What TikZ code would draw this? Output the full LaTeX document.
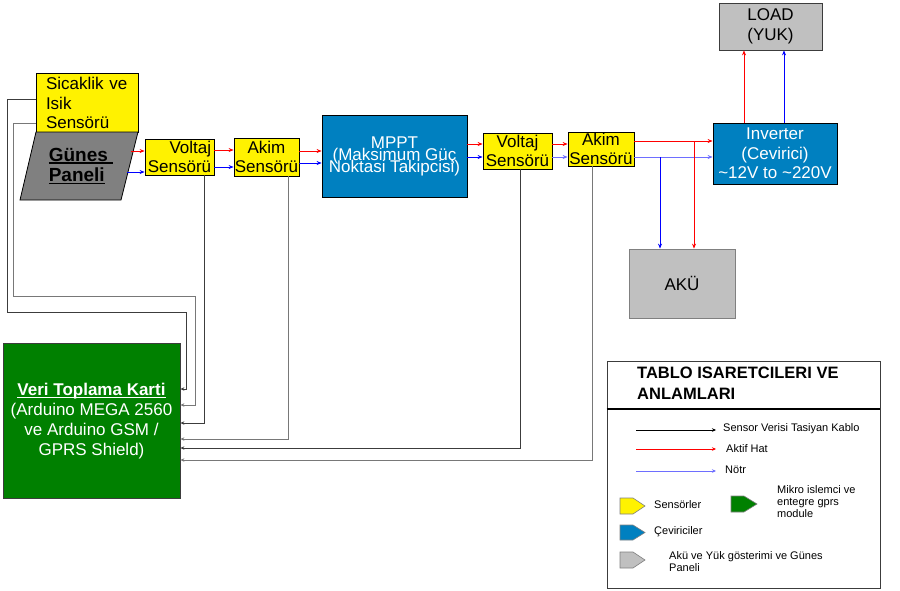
\documentclass[tikz,border=0pt]{standalone}
\usepackage{fontspec}
\setmainfont{Liberation Sans}
\usetikzlibrary{arrows.meta}
\definecolor{mpptblue}{RGB}{0,128,192}
\definecolor{boxgreen}{RGB}{0,128,0}
\definecolor{lgray}{RGB}{192,192,192}
\definecolor{dgray}{RGB}{128,128,128}
\definecolor{wire}{RGB}{60,60,60}
\definecolor{wiretwo}{RGB}{120,120,120}
\definecolor{lblue}{RGB}{110,110,255}
\newcommand\myul[1]{\setbox0\hbox{#1}\rlap{\rule[-2.5pt]{\wd0}{1.3pt}}\box0}
\newcommand\tightlines{\lineskiplimit=-20pt\relax}
\begin{document}
\begin{tikzpicture}[x=1pt,y=-1pt,
  box/.style={draw=black, line width=0.8pt, inner sep=0pt},
  bigfont/.style={font=\fontsize{17}{19.5}\selectfont},
  sensorbox/.style={box, fill=yellow, bigfont, align=center},
  redarrow/.style={draw=red, line width=0.7pt, -{Stealth[length=5pt,width=4pt]}},
  bluearrow/.style={draw=blue, line width=0.7pt, -{Stealth[length=5pt,width=4pt]}},
  wirearrow/.style={draw=wire, line width=0.8pt, -{Stealth[length=4pt,width=3.5pt]}},
  wiregray/.style={wirearrow, draw=wiretwo},
  smalltext/.style={font=\fontsize{11}{12}\selectfont, anchor=west, inner sep=0pt, align=left},
  icon/.style={draw=dgray, line width=0.6pt}
]
\useasboundingbox (0,0) rectangle (900,590);
\fill[white] (0,0) rectangle (900,590);

% ---- boxes ----
\node[box, fill=yellow, minimum width=102, minimum height=59, text width=82pt, align=left,
      font=\fontsize{17}{19.5}\selectfont] (sic) at (87,103) {Sicaklik ve\\Isik\\Sensörü};
\draw[line width=0.8pt, fill=dgray] (36,132) -- (138,132) -- (121,200) -- (20,200) -- cycle;
\node[inner sep=0pt, align=left, font=\fontsize{19}{20.5}\selectfont\bfseries] (gunes) at (81,166)
      {\myul{Günes\ }\\\myul{Paneli}};
\coordinate (gunesR) at (131,151);
\coordinate (gunesB) at (127,172);

\node[sensorbox, minimum width=69, minimum height=36, align=right] (v1) at (179.5,157) {Voltaj\\Sensörü};
\node[sensorbox, minimum width=65, minimum height=38] (a1) at (266.5,157) {Akim\\Sensörü};
\node[box, fill=mpptblue, minimum width=145, minimum height=82, align=center, text=white,
      font={\fontsize{17}{12}\selectfont\tightlines}] (mppt) at (394.5,156)
      {MPPT\\(Maksimum Güç\\Noktasi Takipcisi)};
\node[sensorbox, minimum width=69, minimum height=36] (v2) at (517.5,151) {Voltaj\\Sensörü};
\node[sensorbox, minimum width=66, minimum height=34] (a2) at (601,149) {Akim\\Sensörü};
\node[box, fill=mpptblue, minimum width=124, minimum height=61, align=center, text=white, bigfont]
      (inv) at (775,153.5) {Inverter\\(Cevirici)\\\textasciitilde 12V to \textasciitilde 220V};
\node[box, draw=wire, fill=lgray, minimum width=103, minimum height=47, align=center, bigfont]
      (load) at (770.5,26.5) {LOAD\\(YUK)};
\node[box, draw=dgray, fill=lgray, minimum width=106, minimum height=69, bigfont]
      (aku) at (682,283.5) {AKÜ};
\node[box, draw=wire, fill=boxgreen, minimum width=177, minimum height=155, align=center, text=white,
      font=\fontsize{17}{20}\selectfont] (veri) at (91.5,421)
      {\textbf{\myul{Veri Toplama Karti}}\\(Arduino MEGA 2560\\ve Arduino GSM /\\GPRS Shield)};

% ---- power lines ----
\draw[redarrow] (gunesR) -- (gunesR -| v1.west);
\draw[bluearrow] (gunesB) -- (gunesB -| v1.west);
\draw[redarrow] (v1.east |- 0,150) -- (a1.west |- 0,150);
\draw[bluearrow] (v1.east |- 0,167) -- (a1.west |- 0,167);
\draw[redarrow] (a1.east |- 0,151) -- (mppt.west |- 0,151);
\draw[bluearrow] (a1.east |- 0,163) -- (mppt.west |- 0,163);
\draw[redarrow] (mppt.east |- 0,144) -- (v2.west |- 0,144);
\draw[bluearrow] (mppt.east |- 0,157) -- (v2.west |- 0,157);
\draw[redarrow] (v2.east |- 0,144) -- (a2.west |- 0,144);
\draw[bluearrow, draw=lblue] (v2.east |- 0,157) -- (a2.west |- 0,157);
\draw[redarrow] (a2.east |- 0,141) -- (inv.west |- 0,141);
\draw[bluearrow, draw=lblue] (a2.east |- 0,157) -- (inv.west |- 0,157);
\draw[redarrow] (694,141) -- (aku.north -| 694,0);
\draw[bluearrow] (660,157) -- (aku.north -| 660,0);
\draw[redarrow] (inv.north -| 744,0) -- (load.south -| 744,0);
\draw[bluearrow] (inv.north -| 784,0) -- (load.south -| 784,0);

% ---- sensor data lines ----
\draw[wirearrow] (sic.west |- 0,99) -- (7,99) -- (7,312) -- (186,312) -- (186,389) -- (veri.east |- 0,389);
\draw[wiregray] (sic.west |- 0,123) -- (13,123) -- (13,296) -- (195,296) -- (195,405) -- (veri.east |- 0,405);
\draw[wirearrow] (v1.south -| 204,0) -- (204,423) -- (veri.east |- 0,423);
\draw[wiregray] (a1.south -| 288,0) -- (288,439) -- (veri.east |- 0,439);
\draw[wirearrow] (v2.south -| 520,0) -- (520,448) -- (veri.east |- 0,448);
\draw[wiregray] (a2.south -| 592,0) -- (592,460) -- (veri.east |- 0,460);

% ---- legend ----
\node[draw=wire, line width=0.7pt, minimum width=273, minimum height=227, inner sep=0pt] (legend) at (743.5,474.5) {};
\draw[line width=1.6pt] (legend.west |- 0,409) -- (legend.east |- 0,409);
\node[anchor=west, inner sep=0pt, align=left, font=\fontsize{16.5}{21}\selectfont\bfseries] (ltitle) at (637,383.5)
      {TABLO ISARETCILERI VE\\ANLAMLARI};
\coordinate (k1a) at (636,430); \coordinate (k1b) at (716,430);
\coordinate (k2a) at (636,449); \coordinate (k2b) at (716,449);
\coordinate (k3a) at (636,471); \coordinate (k3b) at (716,471);
\draw[draw=black, line width=0.5pt, -{Stealth[length=4pt,width=3.5pt]}] (k1a) -- (k1b);
\draw[draw=red, line width=0.5pt, -{Stealth[length=4pt,width=3.5pt]}] (k2a) -- (k2b);
\draw[draw=lblue, line width=0.8pt, -{Stealth[length=4pt,width=3.5pt]}] (k3a) -- (k3b);
\node[smalltext] (t1) at (723,429) {Sensor Verisi Tasiyan Kablo};
\node[smalltext] (t2) at (726,449) {Aktif Hat};
\node[smalltext] (t3) at (725,470) {Nötr};
\draw[icon, fill=yellow] (620,498) -- (633,498) -- (645,506) -- (633,514) -- (620,514) -- cycle;
\draw[icon, fill=boxgreen] (731,496) -- (744,496) -- (757,504) -- (744,512) -- (731,512) -- cycle;
\draw[icon, fill=mpptblue] (620,525) -- (633,525) -- (645,532.5) -- (633,540) -- (620,540) -- cycle;
\draw[icon, fill=lgray] (620,552) -- (633,552) -- (645,560) -- (633,568) -- (620,568) -- cycle;
\node[smalltext] (t4) at (654,505) {Sensörler};
\node[smalltext] (t5) at (654,532) {Çeviriciler};
\node[smalltext] (t6) at (777,502) {Mikro islemci ve\\entegre gprs\\module};
\node[smalltext, font=\fontsize{11}{11.5}\selectfont] (t7) at (669,561.5) {Akü ve Yük gösterimi ve Günes\\Paneli};
\end{tikzpicture}
\end{document}
